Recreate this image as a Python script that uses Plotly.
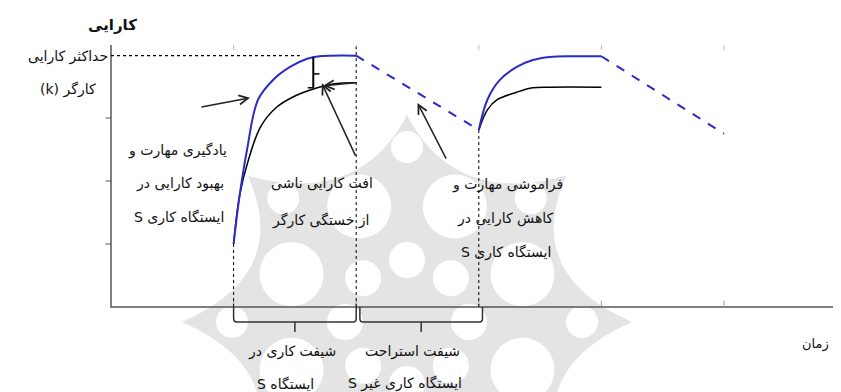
import numpy as np
import plotly.graph_objects as go

# performance curves (time unit = one tick, performance unit = one tick)
blue_x1 = [1.0, 1.044, 1.109, 1.199, 1.32, 1.46, 1.60, 1.70, 2.0]
blue_y1 = [1.0, 1.70, 2.49, 3.29, 3.60, 3.81, 3.94, 3.98, 3.99]
black_x1 = [1.0, 1.05, 1.12, 1.22, 1.35, 1.48, 1.62, 1.81, 2.0]
black_y1 = [1.0, 1.78, 2.33, 2.86, 3.17, 3.33, 3.44, 3.54, 3.56]
blue_x2 = [3.0, 3.07, 3.17, 3.31, 3.44, 3.58, 3.77, 4.0]
blue_y2 = [2.81, 3.29, 3.60, 3.81, 3.92, 3.97, 3.98, 3.98]
black_x2 = [3.0, 3.07, 3.15, 3.31, 3.44, 3.58, 4.0]
black_y2 = [2.81, 3.13, 3.29, 3.41, 3.48, 3.49, 3.49]
forget_x1 = [2.0, 3.0]
forget_y1 = [3.99, 2.81]
forget_x2 = [4.0, 5.0]
forget_y2 = [3.98, 2.75]

k_max = 3.99
x_ticks = [1, 2, 3, 4, 5]
y_ticks = [1, 2, 3]
shift_work = [1.0, 2.0]
shift_rest = [2.03, 3.03]

RTL = lambda s: "\u202b" + s + "\u202c"
FONT = "DejaVu Sans, Noto Sans, sans-serif"

# pixel scale of the drawing (px per unit); page body has an 8px margin
PX, PY = 122.6, 63.0
OFF = 8

fig = go.Figure()

# faint ornament in the background
cx, cy, R = (407 - 111) / PX, (307 - 322) / PY, 225
def px2d(dx, dy):
    return cx + dx / PX, cy + dy / PY

path = ""
for k in range(8):
    a = np.pi / 2 + k * np.pi / 4
    b = a + np.pi / 8
    c = a + np.pi / 4
    tx, ty = px2d(R * np.cos(a), R * np.sin(a) * 0.92)
    qx, qy = px2d(125 * np.cos(b), 125 * np.sin(b))
    nx, ny = px2d(R * np.cos(c), R * np.sin(c) * 0.92)
    if k == 0:
        path += f"M{tx},{ty} "
    path += f"Q{qx},{qy} {nx},{ny} "
path += "Z"
fig.add_shape(type="path", path=path, fillcolor="#e4e4e4", line_width=0, layer="below")
holes = [(125, 32, np.pi / 8), (62, 18, 0), (175, 16, 0)]
for rad, r, off in holes:
    for k in range(8):
        a = np.pi / 2 + k * np.pi / 4 + off
        ox, oy = px2d(rad * np.cos(a), rad * np.sin(a))
        fig.add_shape(type="circle", x0=ox - r / PX, x1=ox + r / PX, y0=oy - r / PY, y1=oy + r / PY,
                      fillcolor="white", line_width=0, layer="below")

# axes
axis_col = "#555555"
fig.add_trace(go.Scatter(x=[0, 0, 5.96], y=[4.16, 0, 0], mode="lines",
                         line=dict(color=axis_col, width=1.5), hoverinfo="skip"))
for t in y_ticks:
    fig.add_trace(go.Scatter(x=[-0.045, 0], y=[t, t], mode="lines",
                             line=dict(color=axis_col, width=1), hoverinfo="skip"))
for t in x_ticks:
    fig.add_trace(go.Scatter(x=[t, t], y=[4.16, 4.08], mode="lines",
                             line=dict(color="#bbbbbb", width=1), hoverinfo="skip"))
    fig.add_trace(go.Scatter(x=[t, t], y=[0, 0.1], mode="lines",
                             line=dict(color="#999999", width=1), hoverinfo="skip"))

# guide lines
fig.add_trace(go.Scatter(x=[0, 1.54], y=[k_max, k_max], mode="lines",
                         line=dict(color="black", width=1.2, dash="dot"), hoverinfo="skip"))
fig.add_trace(go.Scatter(x=[1, 1], y=[0, blue_y1[0]], mode="lines",
                         line=dict(color="black", width=1, dash="dot"), hoverinfo="skip"))
fig.add_trace(go.Scatter(x=[2, 2], y=[0, 4.13], mode="lines",
                         line=dict(color="black", width=1, dash="dot"), hoverinfo="skip"))
fig.add_trace(go.Scatter(x=[3, 3], y=[0, blue_y2[0]], mode="lines",
                         line=dict(color="black", width=1, dash="dot"), hoverinfo="skip"))

# curves
blue = "#2b2bc8"
for xs, ys in [(black_x1, black_y1), (black_x2, black_y2)]:
    fig.add_trace(go.Scatter(x=xs, y=ys, mode="lines", line=dict(color="black", width=1.5, shape="spline"),
                             hoverinfo="skip"))
for xs, ys in [(blue_x1, blue_y1), (blue_x2, blue_y2)]:
    fig.add_trace(go.Scatter(x=xs, y=ys, mode="lines", line=dict(color=blue, width=2, shape="spline"),
                             hoverinfo="skip"))
for xs, ys in [(forget_x1, forget_y1), (forget_x2, forget_y2)]:
    fig.add_trace(go.Scatter(x=xs, y=ys, mode="lines", line=dict(color=blue, width=2, dash="dash"),
                             hoverinfo="skip"))

# gap marker between max and actual performance
gx = 1.65
fig.add_trace(go.Scatter(x=[gx, gx], y=[3.97, 3.48], mode="lines",
                         line=dict(color="black", width=2), hoverinfo="skip"))
fig.add_trace(go.Scatter(x=[gx, gx + 0.05], y=[3.70, 3.70], mode="lines",
                         line=dict(color="black", width=1.5), hoverinfo="skip"))
fig.add_trace(go.Scatter(x=[gx - 0.045, gx], y=[3.48, 3.48], mode="lines",
                         line=dict(color="black", width=1.5), hoverinfo="skip"))

# braces under the time axis
def brace(x0, x1):
    xc = (x0 + x1) / 2
    d = 0.238
    p = (f"M{x0},0 L{x0},{-d + 0.06} Q{x0},{-d} {x0 + 0.025},{-d} "
         f"L{x1 - 0.025},{-d} Q{x1},{-d} {x1},{-d + 0.06} L{x1},0 "
         f"M{xc},{-d} L{xc},{-0.397}")
    fig.add_shape(type="path", path=p, line=dict(color="#333333", width=1.5))

brace(*shift_work)
brace(*shift_rest)

# arrows
arrows = [
    (1.134, 3.32, 0.726, 3.17),
    (1.72, 3.55, 2.0, 2.38),
    (1.73, 3.51, 2.0, 3.56),
    (2.50, 3.24, 2.74, 2.33),
]
for x, y, ax, ay in arrows:
    fig.add_annotation(x=x, y=y, ax=ax, ay=ay, xref="x", yref="y", axref="x", ayref="y",
                       text="", showarrow=True, arrowhead=5, arrowsize=1.2, arrowwidth=1.5,
                       arrowcolor="#222222")

# texts: (label, x, y, anchor, size)
labels = [
    ("<b>کارایی</b>", 0.01, 4.47, "center", 15),
    ("حداکثر کارایی", -0.005, 3.98, "right", 14),
    ("کارگر (k)", -0.11, 3.46, "right", 14),
    ("یادگیری مهارت و", 0.96, 2.49, "right", 14),
    ("بهبود کارایی در", 0.94, 1.96, "right", 14),
    ("ایستگاه کاری S", 0.94, 1.42, "right", 14),
    ("افت کارایی ناشی", 1.72, 1.96, "center", 14),
    ("از خستگی کارگر", 1.71, 1.37, "center", 14),
    ("فراموشی مهارت و", 3.23, 1.95, "center", 14),
    ("کاهش کارایی در", 3.22, 1.41, "center", 14),
    ("ایستگاه کاری S", 3.22, 0.87, "center", 14),
    ("شیفت کاری در", 1.48, -0.70, "center", 14),
    ("ایستگاه S", 1.42, -1.22, "center", 14),
    ("شیفت استراحت", 2.46, -0.70, "center", 14),
    ("ایستگاه کاری غیر S", 2.40, -1.22, "center", 14),
    ("زمان", 5.75, -0.59, "center", 13),
]
for s, x, y, anc, size in labels:
    fig.add_annotation(x=x, y=y, xref="x", yref="y", text=RTL(s), showarrow=False,
                       xanchor=anc, yanchor="middle",
                       font=dict(family=FONT, size=size, color="#111111"))

fig.update_layout(
    width=841 - OFF, height=392 - OFF,
    margin=dict(l=0, r=0, t=0, b=0),
    paper_bgcolor="white", plot_bgcolor="white",
    showlegend=False,
    xaxis=dict(visible=False, range=[-(111 - OFF) / PX, 730 / PX]),
    yaxis=dict(visible=False, range=[-85 / PY, (307 - OFF) / PY]),
)

fig.write_html("out.html")
